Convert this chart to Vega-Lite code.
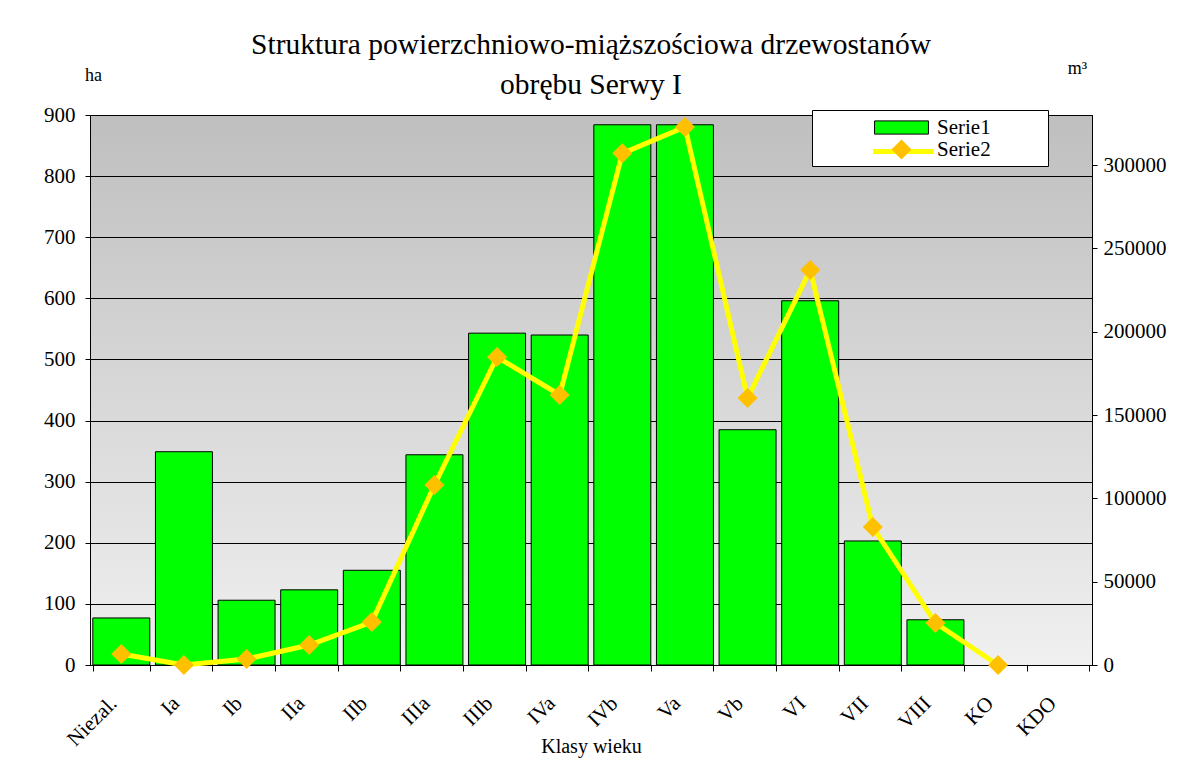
{
  "$schema": "https://vega.github.io/schema/vega-lite/v6.json",
  "autosize": {"type": "none"},
  "width": 1002,
  "height": 550,
  "padding": {"left": 90, "top": 115, "right": 92, "bottom": 108},
  "background": "white",
  "title": {
    "text": ["Struktura powierzchniowo-miąższościowa drzewostanów", "obrębu Serwy I"],
    "font": "Liberation Serif",
    "fontSize": 29.5,
    "fontWeight": "normal",
    "color": "#000000",
    "anchor": "middle",
    "lineHeight": 40,
    "offset": -41
  },
  "config": {
    "font": "Liberation Serif",
    "view": {
      "stroke": "#000000",
      "fill": {"gradient": "linear", "x1": 0, "y1": 0, "x2": 0, "y2": 1, "stops": [{"offset": 0, "color": "#bfbfbf"}, {"offset": 1, "color": "#f0f0f0"}]}
    },
    "axis": {
      "labelFont": "Liberation Serif",
      "labelFontSize": 21,
      "labelColor": "#000000",
      "titleFont": "Liberation Serif",
      "titleFontSize": 20,
      "titleFontWeight": "normal",
      "titleColor": "#000000",
      "domainColor": "#000000",
      "tickColor": "#000000"
    },
    "legend": {
      "labelFont": "Liberation Serif",
      "labelFontSize": 21,
      "labelColor": "#000000",
      "symbolSize": 484,
      "symbolOffset": 72,
      "labelOffset": 24,
      "padding": 6,
      "rowPadding": 0,
      "symbolOpacity": 1
    }
  },
  "data": {
    "values": [
      {"k": "Niezal.", "ha": 77, "m3": 6600},
      {"k": "Ia", "ha": 349, "m3": 0},
      {"k": "Ib", "ha": 106, "m3": 3600},
      {"k": "IIa", "ha": 123, "m3": 12000},
      {"k": "IIb", "ha": 155, "m3": 25800},
      {"k": "IIIa", "ha": 344, "m3": 108000},
      {"k": "IIIb", "ha": 543, "m3": 184800},
      {"k": "IVa", "ha": 540, "m3": 162000},
      {"k": "IVb", "ha": 884, "m3": 307000},
      {"k": "Va", "ha": 884, "m3": 322800},
      {"k": "Vb", "ha": 385, "m3": 160200},
      {"k": "VI", "ha": 596, "m3": 237000},
      {"k": "VII", "ha": 203, "m3": 82800},
      {"k": "VIII", "ha": 74, "m3": 25200},
      {"k": "KO", "ha": null, "m3": 0},
      {"k": "KDO", "ha": null, "m3": null}
    ]
  },
  "encoding": {
    "x": {
      "field": "k",
      "type": "nominal",
      "sort": null,
      "scale": {"paddingInner": 0.09, "paddingOuter": 0.045},
      "axis": {
        "title": "Klasy wieku",
        "labelAngle": -45,
        "labelAlign": "right",
        "labelBaseline": "middle",
        "labelPadding": 29,
        "labelOffset": -8,
        "tickBand": "extent",
        "tickSize": 6,
        "titlePadding": -13
      }
    }
  },
  "layer": [
    {
      "mark": {"type": "bar", "stroke": "#000000", "strokeWidth": 1},
      "encoding": {
        "y": {
          "field": "ha",
          "type": "quantitative",
          "scale": {"domain": [0, 900], "nice": false},
          "axis": {
            "title": "ha",
            "titleAngle": 0,
            "titleX": 3,
            "titleY": -40,
            "titleAlign": "center",
            "titleBaseline": "middle",
            "titleFontSize": 18,
            "values": [0, 100, 200, 300, 400, 500, 600, 700, 800, 900],
            "grid": true,
            "gridColor": "#000000",
            "gridOpacity": 1,
            "gridWidth": 1,
            "tickSize": 5,
            "labelPadding": 10
          }
        },
        "fill": {
          "datum": "Serie1",
          "type": "nominal",
          "scale": {"domain": ["Serie1", "Serie2"], "range": ["#00ff00", "transparent"]},
          "legend": {
            "title": "MMM",
            "titleOrient": "right",
            "titlePadding": 0,
            "titleFontSize": 19,
            "titleFontWeight": "normal",
            "titleLimit": 400,
            "titleOpacity": 0,
            "orient": "none",
            "legendX": 722,
            "legendY": -5,
            "fillColor": "#ffffff",
            "strokeColor": "#000000",
            "symbolType": "M-2.45,-0.6H2.45V0.6H-2.45Z",
            "symbolStrokeColor": {"expr": "datum.value === 'Serie1' ? '#000000' : 'transparent'"},
            "symbolStrokeWidth": 1
          }
        }
      }
    },
    {
      "layer": [
        {
          "mark": {"type": "line", "strokeWidth": 5},
          "encoding": {
            "y": {
              "field": "m3",
              "type": "quantitative",
              "scale": {"domain": [0, 330000], "nice": false},
              "axis": {
                "orient": "right",
                "title": "m³",
                "titleAngle": 0,
                "titleX": -15,
                "titleY": -47,
                "titleAlign": "center",
                "titleBaseline": "middle",
                "titleFontSize": 18,
                "values": [0, 50000, 100000, 150000, 200000, 250000, 300000],
                "format": "d",
                "grid": false,
                "tickSize": 5,
                "labelPadding": 6
              }
            },
            "stroke": {
              "datum": "Serie2 line",
              "type": "nominal",
              "scale": {"domain": ["Serie2 line"], "range": ["#ffff00"]},
              "legend": {
                "title": null,
                "orient": "none",
                "legendX": 722,
                "legendY": 17,
                "symbolType": "M-2.77,0H2.77",
                "symbolStrokeWidth": 5,
                "labelExpr": "''"
              }
            }
          }
        },
        {
          "mark": {"type": "point", "filled": true, "color": "#ffc000", "size": 400, "opacity": 1},
          "encoding": {
            "y": {"field": "m3", "type": "quantitative"},
            "shape": {
              "datum": "Serie2 marker",
              "type": "nominal",
              "scale": {"domain": ["Serie2 marker"], "range": ["diamond"]},
              "legend": {
                "title": null,
                "orient": "none",
                "legendX": 722,
                "legendY": 18,
                "symbolSize": 400,
                "symbolFillColor": "#ffc000",
                "symbolStrokeWidth": 0,
                "labelExpr": "''",
                "symbolOffset": 73
              }
            }
          }
        }
      ]
    }
  ],
  "resolve": {"scale": {"y": "independent"}}
}
